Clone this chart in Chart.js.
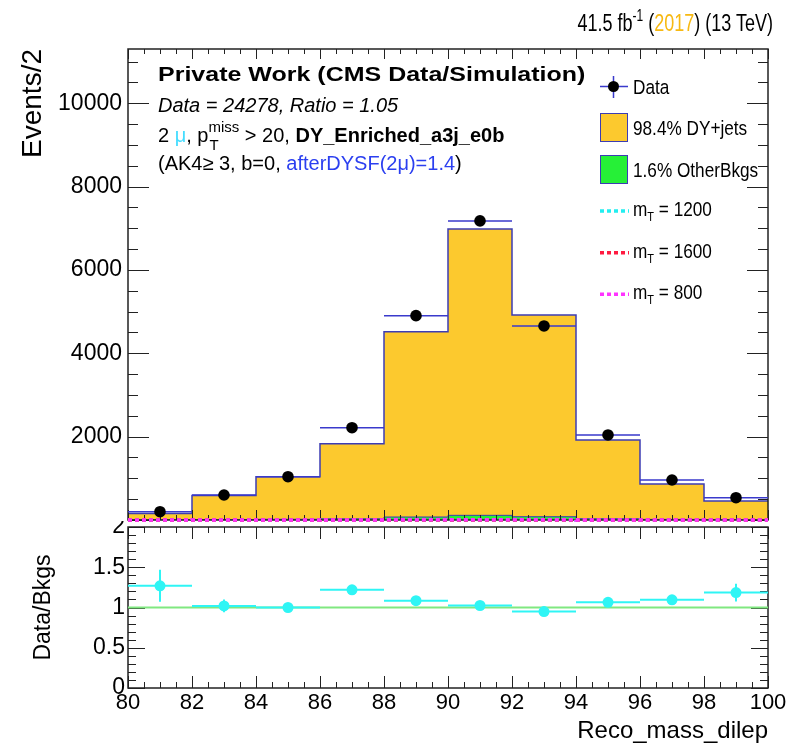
<!DOCTYPE html>
<html>
<head>
<meta charset="utf-8">
<script src="https://cdn.jsdelivr.net/npm/chart.js"></script>
<style>
  html, body { margin: 0; padding: 0; background: #fff; }
  #wrap { position: relative; width: 788px; height: 743px; overflow: hidden;
          font-family: "Liberation Sans", Arial, Helvetica, sans-serif; color: #000; }
  canvas { position: absolute; left: 0; }
  #main { top: 0; }
  #ratio { top: 521px; }
  .t { position: absolute; white-space: nowrap; }
  .info { font-size: 20px; line-height: 20px; left: 158px; }
  .leg { font-size: 17.2px; line-height: 20px; left: 633px; transform: scaleY(1.13); }
  .sub { position: relative; font-size: 11px; top: 5px; }
</style>
</head>
<body>
<div id="wrap">
  <canvas id="ratio" width="788" height="222"></canvas>
  <canvas id="main" width="788" height="524"></canvas>

  <div class="t" style="right:15px;top:13px;font-size:18px;line-height:20px;transform:scaleY(1.36);">41.5 fb<span style="position:relative;top:-7px;font-size:12px;">-1</span> (<span style="color:#f7b912">2017</span>) (13 TeV)</div>

  <div class="t" style="left:158px;top:61.5px;font-weight:bold;font-size:25px;line-height:25px;transform:scaleY(0.8);">Private Work (CMS Data/Simulation)</div>
  <div class="t info" style="top:95px;font-style:italic;">Data = 24278, Ratio = 1.05</div>
  <div class="t info" style="top:125px;">2 <span style="color:#44ddff">μ</span>, p<span style="position:relative;font-size:15px;"><span style="position:relative;top:-10px;">miss</span><span style="position:absolute;left:1px;top:7px;">T</span></span> &gt; 20, <b>DY_Enriched_a3j_e0b</b></div>
  <div class="t info" style="top:153px;">(AK4≥ 3, b=0, <span style="color:#2b3ff0">afterDYSF(2μ)=1.4</span>)</div>

  <div class="t leg" style="top:76.5px;">Data</div>
  <div class="t leg" style="top:117.5px;">98.4% DY+jets</div>
  <div class="t leg" style="top:159.5px;">1.6% OtherBkgs</div>
  <div class="t leg" style="top:198.5px;">m<span class="sub">T</span> = 1200</div>
  <div class="t leg" style="top:240.5px;">m<span class="sub">T</span> = 1600</div>
  <div class="t leg" style="top:282px;">m<span class="sub">T</span> = 800</div>
</div>

<script>
// bins of Reco_mass_dilep (width 2)
const binEdges = [80, 82, 84, 86, 88, 90, 92, 94, 96, 98, 100];
const binCenters = [81, 83, 85, 87, 89, 91, 93, 95, 97, 99];

// events per bin
const dataCounts = [199, 600, 1039, 2215, 4903, 7176, 4656, 2040, 960, 535];
const dyJets = [154, 579, 1022, 1802, 4447, 6872, 4841, 1889, 850, 449];
const otherBkgs = [3, 9, 17, 29, 72, 112, 79, 31, 14, 7];
const sigMT1200 = [0, 0, 1, 1, 2, 2, 2, 1, 1, 0];
const sigMT1600 = [0, 0, 0, 1, 1, 1, 1, 1, 0, 0];
const sigMT800 = [0, 1, 1, 2, 3, 4, 3, 2, 1, 1];

// Data/Bkgs
const ratioValues = [1.27, 1.02, 1.00, 1.22, 1.085, 1.025, 0.95, 1.065, 1.095, 1.185];
const ratioErrors = [0.2, 0.08, 0.05, 0.05, 0.03, 0.03, 0.03, 0.04, 0.06, 0.11];

// tick labels
const mainYTicks = [2000, 4000, 6000, 8000, 10000];
const ratioYTicks = [0, 0.5, 1, 1.5, 2];
const xTicks = [80, 82, 84, 86, 88, 90, 92, 94, 96, 98, 100];

Chart.defaults.font.family = "'Liberation Sans', Arial, Helvetica, sans-serif";
Chart.defaults.color = '#000';

const outline = '#3c3cb4';
const yellow = '#fcc92e';
const green = '#26f037';

// histogram as step line through the bin edges
function stepPoints(vals) {
  const pts = vals.map((v, i) => ({ x: binEdges[i], y: v }));
  pts.push({ x: binEdges[vals.length], y: vals[vals.length - 1] });
  return pts;
}

const totalBkg = dyJets.map((v, i) => v + otherBkgs[i]);

// keep the plot frame where the layout padding puts it
function noPad(s) {
  s.paddingTop = 0; s.paddingBottom = 0; s.paddingLeft = 0; s.paddingRight = 0;
}

function drawFrame(chart, o) {
  const { ctx, chartArea: a } = chart;
  const x = chart.scales.x, y = chart.scales.y;
  ctx.save();
  ctx.strokeStyle = '#222';
  ctx.lineWidth = 1;
  ctx.beginPath();
  for (let v = x.min; v <= x.max + 1e-9; v += o.xMinor) {
    const px = Math.round(x.getPixelForValue(v)) + 0.5;
    const major = Math.abs(v / o.xMajor - Math.round(v / o.xMajor)) < 1e-6;
    const len = major ? o.xMajLen : o.xMinLen;
    ctx.moveTo(px, a.bottom); ctx.lineTo(px, a.bottom - len);
    ctx.moveTo(px, a.top); ctx.lineTo(px, a.top + len);
  }
  for (let v = y.min; v <= y.max + 1e-9; v += o.yMinor) {
    const py = Math.round(y.getPixelForValue(v)) + 0.5;
    const major = Math.abs(v / o.yMajor - Math.round(v / o.yMajor)) < 1e-6;
    const len = major ? o.yMajLen : o.yMinLen;
    ctx.moveTo(a.left, py); ctx.lineTo(a.left + len, py);
    ctx.moveTo(a.right, py); ctx.lineTo(a.right - len, py);
  }
  ctx.stroke();
  ctx.lineWidth = 1.5;
  ctx.strokeRect(a.left, a.top, a.right - a.left, a.bottom - a.top);
  ctx.restore();
}

// ROOT style frame with inner ticks, drawn just before dataset `before`
function frameTicks(o, before) {
  return {
    id: 'frameTicks',
    beforeDatasetDraw(chart, args) {
      if (args.index === before) drawFrame(chart, o);
    }
  };
}

// horizontal bin-width bars under the data markers
const dataBars = {
  id: 'dataBars',
  beforeDatasetDraw(chart, args) {
    if (args.index !== 0) return;
    const { ctx } = chart;
    const x = chart.scales.x, y = chart.scales.y;
    ctx.save();
    ctx.strokeStyle = '#3a3acc';
    ctx.lineWidth = 1.5;
    ctx.beginPath();
    dataCounts.forEach((v, i) => {
      const py = y.getPixelForValue(v);
      ctx.moveTo(x.getPixelForValue(binEdges[i]), py);
      ctx.lineTo(x.getPixelForValue(binEdges[i + 1]), py);
    });
    ctx.stroke();
    ctx.restore();
  }
};

const legendMarks = {
  id: 'legendMarks',
  afterDraw(chart) {
    const ctx = chart.ctx;
    ctx.save();
    ctx.strokeStyle = '#3a3acc';
    ctx.lineWidth = 1.5;
    ctx.beginPath();
    ctx.moveTo(600, 86.5); ctx.lineTo(628, 86.5);
    ctx.moveTo(613.5, 76); ctx.lineTo(613.5, 98);
    ctx.stroke();
    ctx.fillStyle = '#000';
    ctx.beginPath(); ctx.arc(613.5, 86.5, 5.5, 0, 2 * Math.PI); ctx.fill();

    ctx.lineWidth = 1;
    ctx.strokeStyle = outline;
    ctx.fillStyle = yellow;
    ctx.fillRect(600.5, 113.5, 27, 28); ctx.strokeRect(600.5, 113.5, 27, 28);
    ctx.fillStyle = green;
    ctx.fillRect(600.5, 155.5, 27, 28); ctx.strokeRect(600.5, 155.5, 27, 28);

    ctx.lineWidth = 3.5;
    ctx.setLineDash([4, 3]);
    [['#22eef0', 211], ['#ff1a40', 252.7], ['#ff33ff', 294.3]].forEach(([c, yy]) => {
      ctx.strokeStyle = c;
      ctx.beginPath(); ctx.moveTo(600, yy); ctx.lineTo(629, yy); ctx.stroke();
    });
    ctx.restore();
  }
};

new Chart(document.getElementById('main'), {
  type: 'line',
  data: {
    datasets: [
      {
        label: 'Data',
        data: binCenters.map((c, i) => ({ x: c, y: dataCounts[i] })),
        showLine: false,
        pointRadius: 5.8,
        pointBackgroundColor: '#000',
        pointBorderWidth: 0
      },
      { label: 'mT = 800', data: stepPoints(sigMT800), stepped: 'before', borderColor: '#ff33ff',
        borderWidth: 3.5, borderDash: [4, 3], pointRadius: 0, fill: false, clip: 4 },
      { label: 'mT = 1600', data: stepPoints(sigMT1600), stepped: 'before', borderColor: '#ff1a40',
        borderWidth: 3.5, borderDash: [4, 3], pointRadius: 0, fill: false, clip: 4 },
      { label: 'mT = 1200', data: stepPoints(sigMT1200), stepped: 'before', borderColor: '#22eef0',
        borderWidth: 3.5, borderDash: [4, 3], pointRadius: 0, fill: false, clip: 4 },
      { label: 'OtherBkgs', data: stepPoints(otherBkgs), stepped: 'before', borderColor: outline,
        borderWidth: 1, backgroundColor: green, pointRadius: 0, fill: 'origin' },
      { label: 'DY+jets', data: stepPoints(totalBkg), stepped: 'before', borderColor: outline,
        borderWidth: 1.5, backgroundColor: yellow, pointRadius: 0, fill: 'origin' }
    ]
  },
  options: {
    responsive: false,
    animation: false,
    events: [],
    layout: { autoPadding: false, padding: { top: 49, right: 20, bottom: 4, left: 0 } },
    plugins: { legend: { display: false }, tooltip: { enabled: false } },
    scales: {
      x: {
        type: 'linear', min: 80, max: 100,
        afterFit: (s) => { s.height = 0; noPad(s); },
        grid: { display: false, drawTicks: false },
        border: { display: false },
        ticks: { display: false }
      },
      y: {
        min: 0, max: 11300,
        afterBuildTicks: (s) => { s.ticks = mainYTicks.map(v => ({ value: v })); },
        afterFit: (s) => { s.width = 128; noPad(s); },
        grid: { display: false, drawTicks: false },
        border: { display: false },
        ticks: { font: { size: 23 }, padding: 6, color: '#000', callback: v => String(v) },
        title: { display: true, text: 'Events/2', align: 'end', font: { size: 28 },
                 padding: { top: 16, bottom: 0 }, color: '#000' }
      }
    }
  },
  plugins: [dataBars, legendMarks,
    frameTicks({ xMajor: 2, xMinor: 0.5, xMajLen: 10, xMinLen: 5,
                 yMajor: 2000, yMinor: 500, yMajLen: 21, yMinLen: 10 }, 3)]
});

const ratioBars = {
  id: 'ratioBars',
  beforeDatasetDraw(chart, args) {
    if (args.index !== 0) return;
    const { ctx } = chart;
    const x = chart.scales.x, y = chart.scales.y;
    ctx.save();
    ctx.strokeStyle = '#2ff5f5';
    ctx.lineWidth = 2;
    ctx.beginPath();
    ratioValues.forEach((v, i) => {
      const py = y.getPixelForValue(v);
      const px = x.getPixelForValue(binCenters[i]);
      ctx.moveTo(x.getPixelForValue(binEdges[i]), py);
      ctx.lineTo(x.getPixelForValue(binEdges[i + 1]), py);
      ctx.moveTo(px, y.getPixelForValue(v - ratioErrors[i]));
      ctx.lineTo(px, y.getPixelForValue(v + ratioErrors[i]));
    });
    ctx.stroke();
    ctx.restore();
  }
};

new Chart(document.getElementById('ratio'), {
  type: 'line',
  data: {
    datasets: [
      {
        label: 'Data/Bkgs',
        data: binCenters.map((c, i) => ({ x: c, y: ratioValues[i] })),
        showLine: false,
        pointRadius: 5.5,
        pointBackgroundColor: '#2ff5f5',
        pointBorderWidth: 0
      },
      {
        label: 'unity',
        data: [{ x: 80, y: 1 }, { x: 100, y: 1 }],
        borderColor: '#80e880',
        borderWidth: 2,
        pointRadius: 0,
        fill: false
      }
    ]
  },
  options: {
    responsive: false,
    animation: false,
    events: [],
    layout: { autoPadding: false, padding: { top: 6, right: 20, bottom: 0, left: 0 } },
    plugins: { legend: { display: false }, tooltip: { enabled: false } },
    scales: {
      x: {
        type: 'linear', min: 80, max: 100,
        afterBuildTicks: (s) => { s.ticks = xTicks.map(v => ({ value: v })); },
        afterFit: (s) => { s.height = 55; noPad(s); },
        grid: { display: false, drawTicks: false },
        border: { display: false },
        ticks: { font: { size: 22 }, padding: 2, maxRotation: 0, autoSkip: false, color: '#000',
                 callback: v => String(v) },
        title: { display: true, text: 'Reco_mass_dilep', align: 'end',
                 font: { size: 24, lineHeight: 1 }, padding: { top: 0, bottom: 0 }, color: '#000' }
      },
      y: {
        min: 0, max: 2,
        afterBuildTicks: (s) => { s.ticks = ratioYTicks.map(v => ({ value: v })); },
        afterFit: (s) => { s.width = 128; noPad(s); },
        grid: { display: false, drawTicks: false },
        border: { display: false },
        ticks: { font: { size: 23 }, padding: 3, color: '#000', callback: v => String(v) },
        title: { display: true, text: 'Data/Bkgs', font: { size: 23 },
                 padding: { top: 30, bottom: 0 }, color: '#000' }
      }
    }
  },
  plugins: [ratioBars,
    frameTicks({ xMajor: 2, xMinor: 0.5, xMajLen: 12, xMinLen: 6,
                 yMajor: 0.5, yMinor: 0.1, yMajLen: 17, yMinLen: 8 }, 1)]
});
</script>
</body>
</html>
